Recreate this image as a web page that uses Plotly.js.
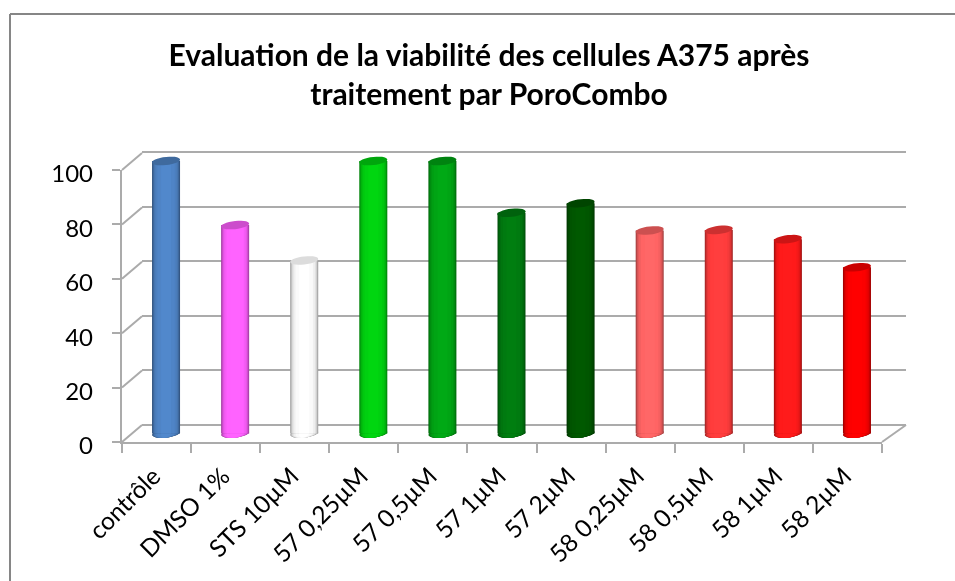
<!DOCTYPE html>
<html><head><meta charset="utf-8">
<script src="https://cdn.plot.ly/plotly-3.0.1.min.js"></script>
<style>html,body{margin:0;padding:0;background:#fff}#c{width:955px;height:581px;filter:blur(0.7px)}</style>
</head><body><div id="c"></div>
<script>
const categories = ['contrôle','DMSO 1%','STS 10µM','57 0,25µM','57 0,5µM','57 1µM','57 2µM','58 0,25µM','58 0,5µM','58 1µM','58 2µM'];
const viability = [100,76.5,63.5,100,100,81,84.5,74.5,74.7,71.3,61];
const barColors = ['#4F84C6','#FF60FF','#FAFAFA','#00D010','#00A414','#007A10','#005600','#FF6464','#FF3C3C','#FF1A1A','#FC0000'];
const yTicks = [0,20,40,60,80,100];
const titleText = 'Evaluation de la viabilité des cellules A375 après<br>traitement par PoroCombo';

const W=955,H=581, GRID='#ABABAB', FONT='Lato, "Open Sans", sans-serif';
const fx=p=>p/W, fy=p=>1-p/H;
function shade(hex,f){const n=parseInt(hex.slice(1),16);const c=[n>>16,(n>>8)&255,n&255].map(v=>Math.min(255,Math.round(v*f)));return `rgb(${c.join(',')})`;}

// pseudo-3D box: front plane, back wall, bars at mid depth (pixel position of value 0 and of value 100)
const front={x0:122,x1:882,y0:442,y1:170}, back={x0:142,x1:906,y0:425,y1:152}, mid={x0:131.5,x1:891.5,y0:433.5,y1:161};
const dx=back.x0-front.x0, dy=back.y0-front.y0;
// value range widened so that caps are not clipped, keeping the pixel mapping of 0 and 100
const domainFor=(p,lo,hi)=>{const u=(p.y0-p.y1)/100;return [fy(p.y0-lo*u),fy(p.y0-hi*u)];};
const BAR=0.405;
const strips=[[1,0.62],[0.96,0.72],[0.91,0.82],[0.85,0.9],[0.76,0.96],[0.62,1],[0.36,1.03]];

const traces=[];
traces.push({type:'scatter',x:[0],y:[0],xaxis:'x',yaxis:'y',mode:'none',hoverinfo:'skip',showlegend:false});
traces.push({type:'scatter',x:categories,y:categories.map(()=>0),xaxis:'x2',yaxis:'y2',mode:'none',hoverinfo:'skip',showlegend:false});
strips.forEach(([w,f])=>traces.push({type:'bar',x:categories,y:viability,xaxis:'x3',yaxis:'y3',width:BAR*w,
  marker:{color:barColors.map(c=>shade(c,f)),line:{width:0}},showlegend:false,hoverinfo:'x+y'}));

const shapes=[];
const lineP=(x0,y0,x1,y1,color,width)=>({type:'line',xref:'paper',yref:'paper',x0:fx(x0),y0:fy(y0),x1:fx(x1),y1:fy(y1),line:{color,width},layer:'above'});
shapes.push(lineP(10,14,955,14,'#868686',2),lineP(10,14,10,581,'#868686',2));
const yF=v=>front.y0+(front.y1-front.y0)*v/100;
yTicks.forEach(v=>shapes.push(lineP(front.x0,yF(v),front.x0+dx,yF(v)+dy,GRID,2)));
shapes.push(lineP(front.x1,front.y0,back.x1,back.y0,GRID,2));
// cylinder caps: tilted ellipses in data coordinates
const ellB=1.5, ellTilt=0.55;
function cap(i,v,w){const a=BAR*w/2;let d='';for(let k=0;k<28;k++){const t=k/28*2*Math.PI;
  d+=(k?'L':'M')+(i+a*Math.cos(t)).toFixed(4)+','+(v+ellB*Math.sin(t)+ellTilt*Math.cos(t)).toFixed(3);}return d+'Z';}
viability.forEach((v,i)=>{
  strips.forEach(([w,f])=>shapes.push({type:'path',xref:'x3',yref:'y3',layer:'below',path:cap(i,0,w),fillcolor:shade(barColors[i],f),line:{width:0}}));
  shapes.push({type:'path',xref:'x3',yref:'y3',layer:'above',path:cap(i,v,1),
    fillcolor:shade(barColors[i],barColors[i]==='#FAFAFA'?0.88:0.8),line:{width:0}});
});

const hidden={visible:false,fixedrange:true};
const layout={width:W,height:H,autosize:false,margin:{l:0,r:0,t:0,b:0},paper_bgcolor:'#fff',plot_bgcolor:'rgba(0,0,0,0)',
  font:{family:FONT,color:'#000'},showlegend:false,barmode:'overlay',
  title:{text:titleText,x:fx(489),xanchor:'center',y:fy(66),yanchor:'bottom',yref:'container',font:{family:FONT,size:30,weight:700,color:'#000'}},
  xaxis:{domain:[fx(back.x0),fx(back.x1)],range:[0,1],visible:false,fixedrange:true,anchor:'y'},
  yaxis:{domain:domainFor(back,-1,101),range:[-1,101],anchor:'x',showgrid:true,gridcolor:GRID,gridwidth:2.4,tickvals:yTicks,showticklabels:false,ticks:'',zeroline:false,showline:false},
  xaxis2:{domain:[fx(front.x0),fx(front.x1)],type:'category',categoryorder:'array',categoryarray:categories,range:[-0.5,10.5],anchor:'y2',
    showline:true,linecolor:GRID,linewidth:2.4,ticks:'outside',ticklen:9,tickcolor:GRID,tickwidth:2,tickson:'boundaries',tickangle:-45,ticklabelstandoff:8,ticklabelshift:-3,tickfont:{family:FONT,size:24.5},showgrid:false,zeroline:false},
  yaxis2:{domain:[fy(front.y0),fy(front.y1)],range:[0,100],anchor:'x2',tickvals:yTicks,ticktext:yTicks.map(String),showline:true,linecolor:GRID,linewidth:2.4,ticks:'outside',ticklen:8,tickcolor:GRID,tickwidth:2,ticklabelstandoff:14,ticklabelshift:4,tickfont:{family:FONT,size:24},showgrid:false,zeroline:false},
  xaxis3:Object.assign({domain:[fx(mid.x0),fx(mid.x1)],type:'category',categoryorder:'array',categoryarray:categories,range:[-0.5,10.5],anchor:'y3'},hidden),
  yaxis3:Object.assign({domain:domainFor(mid,-4,104),range:[-4,104],anchor:'x3'},hidden),
  shapes
};
Plotly.newPlot('c',traces,layout,{displayModeBar:false,responsive:false});
</script></body></html>
